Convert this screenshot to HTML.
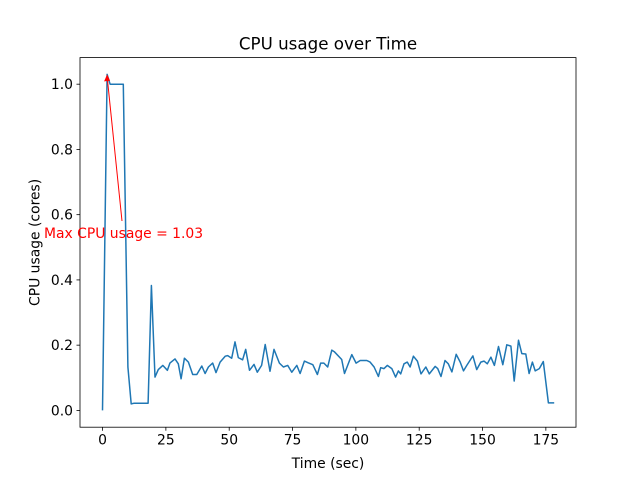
<!DOCTYPE html>
<html><head><meta charset="utf-8"><style>
body{margin:0;background:#fff}
text{font-family:"DejaVu Sans","Liberation Sans",sans-serif}
</style></head><body>
<svg id="chart" width="640" height="480">
<rect width="640" height="480" fill="#fff"/>
<text x="328" y="49.5" font-size="16.7" text-anchor="middle">CPU usage over Time</text>
<g id="ticks"></g>
<path id="line" fill="none" stroke="#1f77b4" stroke-width="1.5" stroke-linejoin="round"/>
<rect x="80" y="57.6" width="496" height="369.6" fill="none" stroke="#000" stroke-width="0.8"/>
<text x="328" y="468" font-size="13.9" text-anchor="middle">Time (sec)</text>
<text x="0" y="0" font-size="13.9" text-anchor="middle" transform="translate(39.5,242.4) rotate(-90)">CPU usage (cores)</text>
<g id="annot"></g>
</svg>
<script>
const times=[0,1.8,3,5,7,8.2,10,11.3,12.5,18,19.3,20.7,22.0,23.8,25.6,26.6,28.6,29.9,31.0,32.3,33.9,35.6,37.2,39.2,40.5,41.8,43.5,44.8,46.4,48.4,49.4,51.0,52.3,53.6,55.3,56.5,58.0,59.8,61.1,62.8,64.2,66.1,67.7,69.8,71.4,73.1,74.7,76.7,78.0,79.7,81.2,83.0,84.8,86.1,87.4,88.9,90.5,91.5,94.4,95.5,98.4,100.1,101.7,104.3,105.6,107.2,108.9,109.8,111.1,112.4,114.2,115.7,116.8,117.7,119.0,120.3,121.4,122.7,124.3,125.7,127.6,129.0,131.3,132.3,133.6,135.2,136.5,137.9,139.6,141.2,142.5,143.8,146.2,147.7,149.3,150.6,151.9,153.3,154.7,156.3,158.0,159.6,161.2,162.5,164.2,165.5,167.1,168.4,169.7,170.8,172.4,174.0,176.0,178.3];
const usage=[0,1.03,1.0,1.0,1.0,1.0,0.133,0.02,0.022,0.022,0.383,0.102,0.125,0.138,0.123,0.145,0.158,0.143,0.097,0.16,0.148,0.11,0.11,0.136,0.113,0.133,0.145,0.116,0.148,0.166,0.168,0.16,0.21,0.162,0.155,0.187,0.123,0.141,0.117,0.138,0.202,0.12,0.187,0.145,0.133,0.138,0.117,0.138,0.113,0.151,0.146,0.14,0.11,0.145,0.145,0.133,0.185,0.18,0.156,0.113,0.171,0.145,0.153,0.153,0.148,0.133,0.104,0.131,0.128,0.138,0.128,0.102,0.121,0.112,0.143,0.148,0.133,0.166,0.151,0.112,0.133,0.112,0.135,0.128,0.104,0.153,0.143,0.118,0.172,0.148,0.121,0.138,0.167,0.125,0.148,0.151,0.143,0.163,0.138,0.196,0.14,0.201,0.197,0.09,0.215,0.174,0.173,0.113,0.148,0.121,0.128,0.15,0.023,0.023];
const xTicks=[0,25,50,75,100,125,150,175];
const yTicks=[0.0,0.2,0.4,0.6,0.8,1.0];
const xMin=-8.9,xMax=186.9,yMin=-0.0515,yMax=1.0815;
const L=80,R=576,T=57.6,B=427.2;
const sx=v=>L+(v-xMin)/(xMax-xMin)*(R-L);
const sy=v=>B-(v-yMin)/(yMax-yMin)*(B-T);
const NS="http://www.w3.org/2000/svg";
const g=document.getElementById('ticks');
function mk(tag,attrs,parent){const e=document.createElementNS(NS,tag);for(const k in attrs)e.setAttribute(k,attrs[k]);parent.appendChild(e);return e;}
xTicks.forEach(v=>{
 const l=mk('line',{x1:sx(v),x2:sx(v),y1:B,y2:B+3.5,stroke:'#000','stroke-width':0.8},g);
 
 
 const t=mk('text',{x:sx(v),y:B+17.5,'font-size':13.9,'text-anchor':'middle'},g);
 t.textContent=String(v);
 
 
});
yTicks.forEach(v=>{
 const l=mk('line',{x1:L-3.5,x2:L,y1:sy(v),y2:sy(v),stroke:'#000','stroke-width':0.8},g);
 
 
 const t=mk('text',{x:L-7,y:sy(v)+5,'font-size':13.9,'text-anchor':'end'},g);
 t.textContent=v.toFixed(1);
 
 
});
document.getElementById('line').setAttribute('d',times.map((t,i)=>(i?'L':'M')+sx(t).toFixed(1)+','+sy(usage[i]).toFixed(1)).join(''));
const a=document.getElementById('annot');
let mi=0;usage.forEach((v,i)=>{if(v>usage[mi])mi=i;});
const px=sx(times[mi]),py=sy(usage[mi]);
const ln=mk('line',{x1:122,y1:221,x2:px,y2:py+2,stroke:'red','stroke-width':1},a);


const hd=mk('path',{d:`M${px},${py} l-3,7 l6,-0.7 z`,fill:'red'},a);


const at=mk('text',{x:44,y:238,'font-size':13.9,fill:'red'},a);
at.textContent='Max CPU usage = '+usage[mi].toFixed(2);


</script>
</body></html>
